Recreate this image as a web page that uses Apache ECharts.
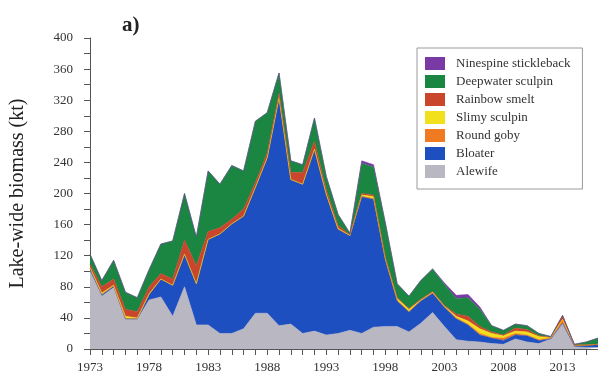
<!DOCTYPE html>
<html>
<head>
<meta charset="utf-8">
<script src="https://cdn.jsdelivr.net/npm/echarts@6/dist/echarts.min.js"></script>
<style>
html,body{margin:0;padding:0;background:#fff;}
#chart{width:598px;height:374px;}
</style>
</head>
<body>
<div id="chart"></div>
<script>
const years = [];
for (let y = 1973; y <= 2016; y++) years.push(String(y));

const alewife   = [100,68,79,38,38,63,67,42,80,31,31,20,20,26,46,46,30,32,20,23,18,20,24,20,28,29,29,22,33,47,29,12,10,9,7,6,13,9,7,13,33,3,2,2];
const bloater   = [4,2,2,1,1,7,23,40,42,53,110,128,141,145,162,200,293,186,192,234,181,134,122,176,165,86,33,26,29,25,25,27,21,9,7,5,5,8,4,0,0,1,3,4];
const roundGoby = [0,0,0,0,0,0,0,0,0,0,0,0,0,0,0,0,0,0,0,0,0,0,0,0,0,0,0,0,0,0,0,1,1,2,1,3,2,1,1,1,5,1,0,0];
const slimy     = [1,2,1,3,1,1,0,0,0,0,0,0,0,0,0,0,0,0,0,0,0,1,0,2,3,1,3,3,1,1,1,2,4,6,5,3,3,4,4,1,0,0,0,0];
const smelt     = [4,8,8,9,8,9,7,8,18,23,10,8,6,9,6,6,6,9,15,10,6,4,1,2,2,2,1,1,1,1,1,3,6,3,2,1,4,3,1,0,5,0,0,0];
const deepwater = [13,8,24,22,18,22,38,49,60,37,78,56,69,49,79,52,26,15,10,30,17,14,2,39,36,44,18,16,24,29,27,20,24,22,8,6,5,5,3,1,0,1,4,8];
const ninespine = [0,0,0,0,0,0,0,0,0,0,0,0,0,0,0,0,0,0,0,0,0,0,0,3,3,0,0,0,0,0,2,4,4,3,0,0,0,0,0,0,0,0,0,0];

const seriesDefs = [
  {name:'Alewife', data:alewife, color:'#b9b7c2'},
  {name:'Bloater', data:bloater, color:'#1d4fc0'},
  {name:'Round goby', data:roundGoby, color:'#ef7a22'},
  {name:'Slimy sculpin', data:slimy, color:'#f3e01c'},
  {name:'Rainbow smelt', data:smelt, color:'#c9452b'},
  {name:'Deepwater sculpin', data:deepwater, color:'#1b8642'},
  {name:'Ninespine stickleback', data:ninespine, color:'#7a3aa5'}
];
const legendOrder = ['Ninespine stickleback','Deepwater sculpin','Rainbow smelt','Slimy sculpin','Round goby','Bloater','Alewife'];

const font = 'Liberation Serif, Times New Roman, serif';
const chart = echarts.init(document.getElementById('chart'), null, {renderer:'canvas'});
chart.setOption({
  backgroundColor:'#ffffff',
  animation:false,
  title:{text:'a)', left:117, top:10, textStyle:{fontFamily:font, fontSize:21, fontWeight:'bold', color:'#222'}},
  grid:{left:88, right:0, top:38, bottom:23},
  legend:{
    orient:'vertical', left:417, top:48,
    data:legendOrder, icon:'rect', itemWidth:20, itemHeight:13, itemGap:5,
    padding:[9,12,11,8], borderColor:'#9a9a9a', borderWidth:1,
    textStyle:{fontFamily:font, fontSize:13, color:'#333', padding:[0,0,0,6]}
  },
  xAxis:{
    type:'category', data:years, boundaryGap:false,
    axisLine:{lineStyle:{color:'#555', width:1}},
    axisTick:{interval:0, length:6, lineStyle:{color:'#555'}},
    axisLabel:{interval:4, fontFamily:font, fontSize:13, color:'#333', margin:12},
    splitLine:{show:false}
  },
  yAxis:{
    type:'value', min:0, max:400, interval:20,
    name:'Lake-wide biomass (kt)', nameLocation:'middle', nameGap:62, nameRotate:90,
    nameTextStyle:{fontFamily:font, fontSize:20, color:'#222'},
    axisLine:{show:true, lineStyle:{color:'#555', width:1}},
    axisTick:{show:true, length:6, lineStyle:{color:'#555'}},
    axisLabel:{fontFamily:font, fontSize:13, color:'#333', margin:17,
      formatter:function(v){return v % 40 === 0 ? String(v) : '';}},
    splitLine:{show:false}
  },
  series: seriesDefs.map(s => ({
    name:s.name, type:'line', stack:'total', data:s.data, symbol:'none',
    itemStyle:{color:s.color},
    lineStyle:{color:s.color, width:0.6},
    areaStyle:{color:s.color, opacity:1}
  }))
});
</script>
</body>
</html>
